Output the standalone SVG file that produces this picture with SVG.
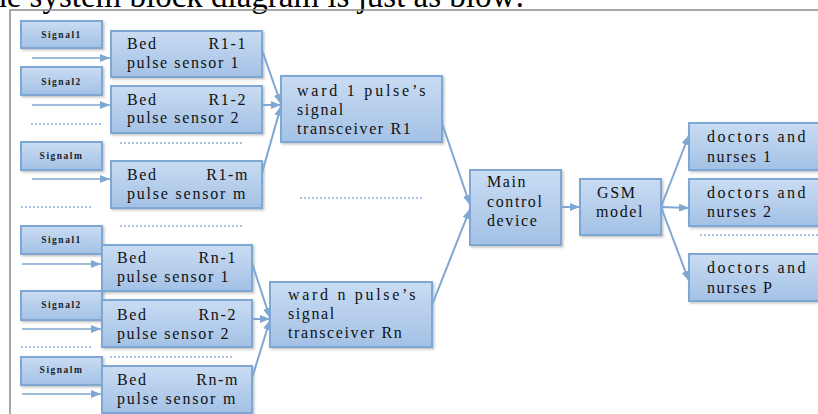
<svg xmlns="http://www.w3.org/2000/svg" width="818" height="414" viewBox="0 0 818 414">
<style>
.box{fill:url(#g);stroke:#7fa7d3;stroke-width:2;filter:url(#sh)}
.t{font-family:"Liberation Serif","Times New Roman",serif;font-size:16px;fill:#111;letter-spacing:1.6px}
.s{font-family:"Liberation Serif","Times New Roman",serif;font-size:9.5px;font-weight:bold;fill:#222;letter-spacing:1.5px}
.c{fill:none;stroke:#7ea7d2;stroke-width:2;marker-end:url(#ah)}
.i{fill:none;stroke:#7ea7d2;stroke-width:1.5;marker-end:url(#ah)}
.d{fill:none;stroke:#8cb0d8;stroke-width:1.5;stroke-dasharray:2 2}
.f{fill:none;stroke:#8a8a8a;stroke-width:1.5}
</style>
<defs>
<linearGradient id="g" x1="0" y1="0" x2="0" y2="1">
<stop offset="0" stop-color="#c9dcf3"/>
<stop offset="1" stop-color="#a3c1e5"/>
</linearGradient>
<filter id="sh" x="-10%" y="-10%" width="130%" height="140%">
<feDropShadow dx="1.5" dy="1.5" stdDeviation="1" flood-color="#555" flood-opacity="0.35"/>
</filter>
<marker id="ah" markerUnits="userSpaceOnUse" markerWidth="10" markerHeight="8" refX="10" refY="4" orient="auto">
<path d="M0,0 L10,4 L0,8 z" fill="#7ea7d2"/>
</marker>
</defs>
<rect width="818" height="414" fill="#fff"/>
<text x="-30" y="7" style="font-family:'Liberation Serif','Times New Roman',serif;font-size:33px;fill:#000">The system block diagram is just as blow:</text>
<path class="f" d="M10,414 V10 H818"/>

<g id="signal-r1-1"><rect class="box" x="21" y="21" width="81" height="27"/><text class="s" x="61.5" y="38" text-anchor="middle">Signal1</text></g>
<g id="signal-r1-2"><rect class="box" x="21" y="67" width="81" height="28"/><text class="s" x="61.5" y="85" text-anchor="middle">Signal2</text></g>
<g id="signal-r1-m"><rect class="box" x="21" y="142" width="81" height="28"/><text class="s" x="61.5" y="159" text-anchor="middle">Signalm</text></g>
<g id="signal-rn-1"><rect class="box" x="21" y="226" width="81" height="28"/><text class="s" x="61.5" y="243" text-anchor="middle">Signal1</text></g>
<g id="signal-rn-2"><rect class="box" x="21" y="291" width="81" height="29"/><text class="s" x="61.5" y="308" text-anchor="middle">Signal2</text></g>
<g id="signal-rn-m"><rect class="box" x="21" y="357" width="81" height="28"/><text class="s" x="61.5" y="373" text-anchor="middle">Signalm</text></g>

<g id="bed-r1-1"><rect class="box" x="111" y="31" width="151" height="46"/><text class="t" x="127" y="49">Bed</text><text class="t" x="247" y="49" text-anchor="end">R1-1</text><text class="t" x="127" y="68">pulse sensor 1</text></g>
<g id="bed-r1-2"><rect class="box" x="111" y="86" width="151" height="47"/><text class="t" x="127" y="105">Bed</text><text class="t" x="247" y="105" text-anchor="end">R1-2</text><text class="t" x="127" y="123">pulse sensor 2</text></g>
<g id="bed-r1-m"><rect class="box" x="111" y="161" width="151" height="47"/><text class="t" x="127" y="180">Bed</text><text class="t" x="249" y="180" text-anchor="end">R1-m</text><text class="t" x="127" y="199" textLength="120">pulse sensor m</text></g>
<g id="bed-rn-1"><rect class="box" x="102" y="245" width="150" height="46"/><text class="t" x="117" y="263">Bed</text><text class="t" x="237" y="263" text-anchor="end">Rn-1</text><text class="t" x="117" y="282">pulse sensor 1</text></g>
<g id="bed-rn-2"><rect class="box" x="102" y="300" width="150" height="47"/><text class="t" x="117" y="320">Bed</text><text class="t" x="237" y="320" text-anchor="end">Rn-2</text><text class="t" x="117" y="339">pulse sensor 2</text></g>
<g id="bed-rn-m"><rect class="box" x="102" y="366" width="150" height="47"/><text class="t" x="117" y="385">Bed</text><text class="t" x="239" y="385" text-anchor="end">Rn-m</text><text class="t" x="117" y="404" textLength="120">pulse sensor m</text></g>

<g id="ward-1"><rect class="box" x="281" y="76" width="161" height="66"/><text class="t" x="297" y="96" textLength="130">ward 1 pulse’s</text><text class="t" x="297" y="115">signal</text><text class="t" x="297" y="134">transceiver R1</text></g>
<g id="ward-n"><rect class="box" x="270" y="282" width="162" height="65"/><text class="t" x="288" y="300" textLength="129">ward n pulse’s</text><text class="t" x="288" y="319">signal</text><text class="t" x="288" y="338">transceiver Rn</text></g>

<g id="main-control"><rect class="box" x="470" y="170" width="91" height="75"/><text class="t" x="487" y="187">Main</text><text class="t" x="487" y="207">control</text><text class="t" x="487" y="226">device</text></g>
<g id="gsm"><rect class="box" x="580" y="179" width="81" height="56"/><text class="t" x="597" y="198">GSM</text><text class="t" x="596" y="217">model</text></g>

<g id="doctors-1"><rect class="box" x="689" y="123" width="133" height="47"/><text class="t" x="707" y="142" textLength="100">doctors and</text><text class="t" x="707" y="162">nurses 1</text></g>
<g id="doctors-2"><rect class="box" x="689" y="179" width="133" height="47"/><text class="t" x="707" y="198" textLength="100">doctors and</text><text class="t" x="707" y="217">nurses 2</text></g>
<g id="doctors-p"><rect class="box" x="689" y="254" width="133" height="47"/><text class="t" x="707" y="273" textLength="100">doctors and</text><text class="t" x="707" y="293">nurses P</text></g>

<g id="connectors">
<path class="i" d="M32,58 H110"/>
<path class="i" d="M32,105 H110"/>
<path class="i" d="M32,179 H110"/>
<path class="i" d="M22,264 H101"/>
<path class="i" d="M22,329 H101"/>
<path class="i" d="M22,394 H101"/>
<path class="c" d="M262,50 L281,104"/>
<path class="c" d="M262,105 L281,105"/>
<path class="c" d="M262,173 L281,106"/>
<path class="c" d="M252,263 L270,318"/>
<path class="c" d="M252,319 L270,319"/>
<path class="c" d="M252,378 L270,320"/>
<path class="c" d="M442,123 L470,205"/>
<path class="c" d="M432,305 L470,209"/>
<path class="c" d="M561,207 L580,207"/>
<path class="c" d="M661,207 L689,135"/>
<path class="c" d="M661,207 L689,208"/>
<path class="c" d="M661,207 L689,281"/>
<path class="d" d="M31,124 H101"/>
<path class="d" d="M21,207 H91"/>
<path class="d" d="M21,347 H91"/>
<path class="d" d="M120,143 H242"/>
<path class="d" d="M120,226 H242"/>
<path class="d" d="M110,357 H232"/>
<path class="d" d="M300,198 H423"/>
<path class="d" d="M700,235 H818"/>
</g>
</svg>
